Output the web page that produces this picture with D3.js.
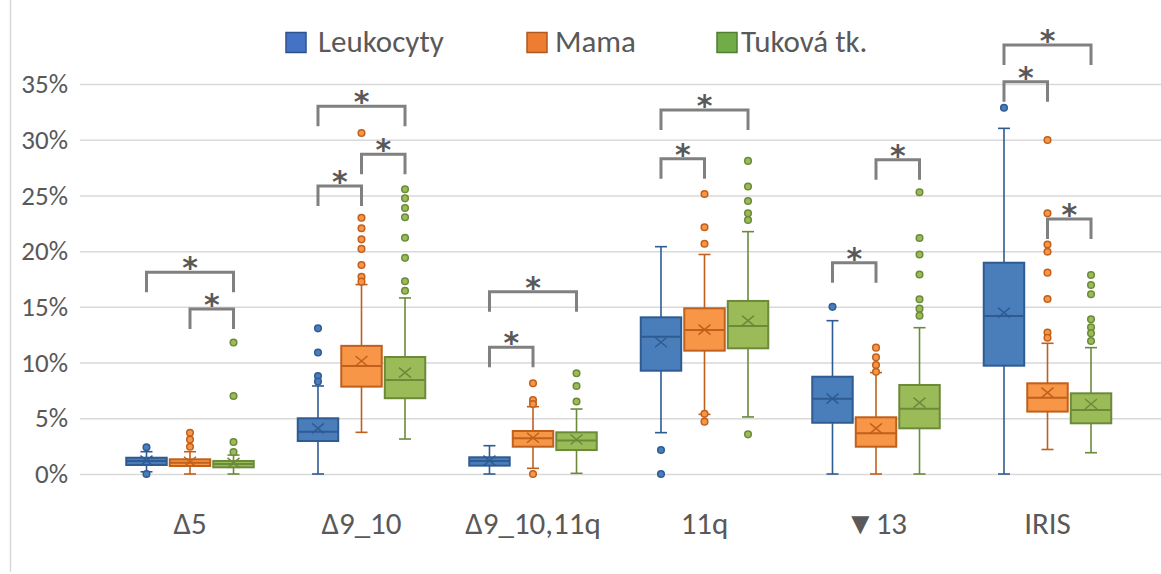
<!DOCTYPE html>
<html>
<head>
<meta charset="utf-8">
<script src="https://cdn.jsdelivr.net/npm/d3@7"></script>
<style>
  html, body { margin: 0; padding: 0; background: #fff; }
  svg { display: block; font-family: Carlito, Lato, "Open Sans", sans-serif; }
</style>
</head>
<body>
<svg id="chart" width="1161" height="574"></svg>
<script>
// Categories, series and tick values (percent)
const categories = ["Δ5", "Δ9_10", "Δ9_10,11q", "11q", "▼13", "IRIS"];
const seriesNames = ["Leukocyty", "Mama", "Tuková tk."];
const yTicks = [0, 5, 10, 15, 20, 25, 30, 35];

// Box statistics per category: [lower whisker, Q1, median, Q3, upper whisker]
const leukocytyBox = [
  [0.2, 0.81, 1.17, 1.46, 2.0],
  [0, 2.96, 3.8, 5.0, 7.9],
  [0, 0.75, 1.17, 1.5, 2.54],
  [3.71, 9.27, 12.32, 14.06, 20.4],
  [0, 4.6, 6.76, 8.73, 13.76],
  [0, 9.72, 14.18, 18.96, 31.02]
];
const leukocytyMean = [1.2, 4.1, 1.2, 11.82, 6.76, 14.48];
const leukocytyOutliers = [
  [2.4, 0.0],
  [13.07, 10.9, 8.8, 8.3],
  [],
  [2.15, 0],
  [15.0],
  [32.87]
];

const mamaBox = [
  [0, 0.72, 1.0, 1.32, 2.0],
  [3.74, 7.84, 9.7, 11.5, 17.0],
  [0.51, 2.45, 3.2, 3.86, 6.04],
  [5.35, 11.07, 12.92, 14.87, 19.7],
  [0, 2.45, 3.65, 5.09, 9.1],
  [2.2, 5.6, 6.85, 8.14, 11.73]
];
const mamaMean = [1.1, 10.14, 3.25, 12.95, 4.1, 7.3];
const mamaOutliers = [
  [3.7, 3.1, 2.45],
  [30.6, 23.0, 22.05, 21.06, 20.2, 18.76, 17.7, 17.26],
  [8.14, 6.64, 6.28, 0],
  [25.13, 22.14, 20.67, 5.4, 4.7],
  [11.34, 10.47, 9.78, 9.18],
  [29.97, 23.4, 20.6, 19.95, 18.07, 15.7, 12.7, 12.23]
];

const tukovaBox = [
  [0, 0.6, 0.9, 1.17, 1.7],
  [3.14, 6.8, 8.44, 10.5, 15.8],
  [0.06, 2.15, 3.0, 3.74, 5.83],
  [5.12, 11.28, 13.28, 15.53, 21.75],
  [0, 4.1, 5.86, 7.99, 13.13],
  [1.91, 4.55, 5.74, 7.24, 11.34]
];
const tukovaMean = [1.0, 9.1, 3.1, 13.76, 6.4, 6.28];
const tukovaOutliers = [
  [11.8, 7.0, 2.87, 1.97],
  [25.55, 24.74, 23.87, 23.04, 21.2, 19.4, 17.3, 16.45],
  [9.04, 7.9, 6.5],
  [28.1, 25.8, 24.5, 23.4, 22.8, 3.56],
  [25.28, 21.18, 19.7, 17.9, 15.68, 14.84, 14.21],
  [17.86, 16.96, 16.13, 13.88, 13.16, 12.63, 11.94]
];

// Significance brackets: [category index, from series, to series, level (%)]
const significance = [
  [0, 0, 2, 18.1], [0, 1, 2, 14.8],
  [1, 0, 2, 33.0], [1, 1, 2, 28.7], [1, 0, 1, 25.85],
  [2, 0, 2, 16.36], [2, 0, 1, 11.37],
  [3, 0, 2, 32.67], [3, 0, 1, 28.3],
  [4, 0, 1, 18.96], [4, 1, 2, 28.2],
  [5, 0, 2, 38.5], [5, 0, 1, 35.2], [5, 1, 2, 22.88]
];

// ---- styling ----
const fills   = ["#4a7ebb", "#f79646", "#9bbb59"];
const strokes = ["#2f5b93", "#c0601c", "#6b8a3a"];
const legendFills   = ["#4472c4", "#ed7d31", "#70ad47"];
const legendStrokes = ["#2f528f", "#ae5a21", "#507e32"];
const textColor = "#595959";
const gridColor = "#d9d9d9";
const fontStack = "Carlito, Lato, sans-serif";

const boxes = [leukocytyBox, mamaBox, tukovaBox];
const means = [leukocytyMean, mamaMean, tukovaMean];
const outliers = [leukocytyOutliers, mamaOutliers, tukovaOutliers];

const svg = d3.select("#chart");

const plotLeft = 80, plotRight = 1161;
const y = d3.scaleLinear().domain([0, 35]).range([474, 84]);
const x0 = d3.scaleBand().domain(categories).range([104.25, 1133.25]).padding(0);
const x1 = d3.scaleBand().domain(d3.range(seriesNames.length))
  .range([-63.75, 63.75]).paddingInner(0.07).paddingOuter(0);

const cx = (ci, si) => x0(categories[ci]) + x0.bandwidth() / 2 + x1(si) + x1.bandwidth() / 2;
const bw = x1.bandwidth();

// outer frame line on the left
svg.append("line").attr("x1", 10.5).attr("x2", 10.5).attr("y1", 0).attr("y2", 572)
  .attr("stroke", "#d9d9d9").attr("stroke-width", 1.5);

// y axis gridlines and labels
const yAxis = d3.axisLeft(y).tickValues(yTicks)
  .tickSize(-(plotRight - plotLeft)).tickPadding(12)
  .tickFormat(d => d + "%");
const ya = svg.append("g").attr("transform", `translate(${plotLeft},0)`).call(yAxis);
ya.select(".domain").remove();
ya.selectAll(".tick line").attr("stroke", gridColor).attr("stroke-width", 1.5);
ya.selectAll(".tick text").attr("fill", textColor).attr("font-size", 27)
  .attr("font-family", fontStack);

// x axis category labels
const xAxis = d3.axisBottom(x0).tickSize(0).tickPadding(38);
const xa = svg.append("g").attr("transform", `translate(0,${y(0)})`).call(xAxis);
xa.select(".domain").remove();
xa.selectAll(".tick text").attr("fill", textColor).attr("font-size", 31)
  .attr("font-family", fontStack);

// box plots
const g = svg.append("g");
seriesNames.forEach((name, si) => {
  categories.forEach((cat, ci) => {
    const [lo, q1, med, q3, hi] = boxes[si][ci];
    const c = cx(ci, si);
    const sg = g.append("g");
    const capW = 12;
    // whiskers
    sg.append("line").attr("x1", c).attr("x2", c).attr("y1", y(q3)).attr("y2", y(hi))
      .attr("stroke", strokes[si]).attr("stroke-width", 1.6);
    sg.append("line").attr("x1", c).attr("x2", c).attr("y1", y(q1)).attr("y2", y(lo))
      .attr("stroke", strokes[si]).attr("stroke-width", 1.6);
    sg.append("line").attr("x1", c - capW / 2).attr("x2", c + capW / 2).attr("y1", y(hi)).attr("y2", y(hi))
      .attr("stroke", strokes[si]).attr("stroke-width", 1.6);
    sg.append("line").attr("x1", c - capW / 2).attr("x2", c + capW / 2).attr("y1", y(lo)).attr("y2", y(lo))
      .attr("stroke", strokes[si]).attr("stroke-width", 1.6);
    // box
    sg.append("rect").attr("x", c - bw / 2).attr("y", y(q3)).attr("width", bw)
      .attr("height", y(q1) - y(q3)).attr("fill", fills[si])
      .attr("stroke", strokes[si]).attr("stroke-width", 2);
    // median
    sg.append("line").attr("x1", c - bw / 2).attr("x2", c + bw / 2).attr("y1", y(med)).attr("y2", y(med))
      .attr("stroke", strokes[si]).attr("stroke-width", 2);
    // mean marker
    const m = y(means[si][ci]), s = 6, t = 5;
    sg.append("path").attr("d", `M${c - s},${m - t}L${c + s},${m + t}M${c - s},${m + t}L${c + s},${m - t}`)
      .attr("stroke", strokes[si]).attr("stroke-width", 1.5).attr("fill", "none");
    // outliers
    sg.selectAll("circle").data(outliers[si][ci]).join("circle")
      .attr("cx", c).attr("cy", d => y(d)).attr("r", 3.3)
      .attr("fill", fills[si]).attr("stroke", strokes[si]).attr("stroke-width", 1.5);
  });
});

// significance brackets
const legLen = 20;
const br = svg.append("g");
significance.forEach(([ci, a, b, lvl]) => {
  const xa_ = cx(ci, a), xb = cx(ci, b), yy = y(lvl);
  br.append("path")
    .attr("d", `M${xa_},${yy + legLen}V${yy}H${xb}V${yy + legLen}`)
    .attr("fill", "none").attr("stroke", "#808080").attr("stroke-width", 3);
  br.append("text").attr("x", (xa_ + xb) / 2).attr("y", yy + 6)
    .attr("text-anchor", "middle").attr("font-size", 30).attr("font-weight", "bold")
    .attr("font-family", "DejaVu Sans, sans-serif")
    .attr("fill", textColor).text("*");
});

// legend
const legendX = [286, 527, 717];
const legendTextX = [318, 555, 741];
const lg = svg.append("g");
seriesNames.forEach((name, si) => {
  lg.append("rect").attr("x", legendX[si]).attr("y", 32.5).attr("width", 20).attr("height", 20)
    .attr("fill", legendFills[si]).attr("stroke", legendStrokes[si]).attr("stroke-width", 1.5);
  lg.append("text").attr("x", legendTextX[si]).attr("y", 52)
    .attr("font-size", 31).attr("fill", textColor)
    .attr("font-family", fontStack).text(name);
});
</script>
</body>
</html>
